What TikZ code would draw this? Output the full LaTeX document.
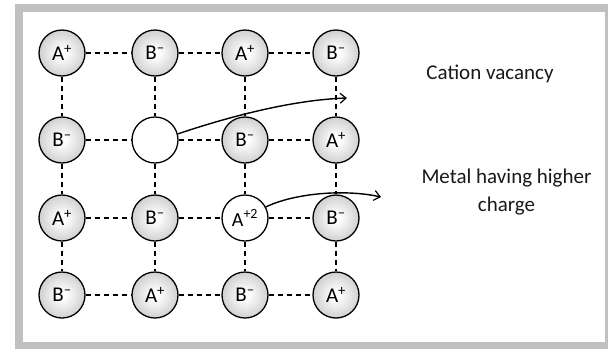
\documentclass[tikz,border=0pt]{standalone}
\usepackage{fontspec}
\setmainfont{Carlito}
\usetikzlibrary{arrows.meta}
\definecolor{framegray}{RGB}{192,192,192}
\pgfdeclareradialshading{ballshade}{\pgfpoint{0bp}{0bp}}{%
  color(0bp)=(white); color(4bp)=(white); color(50bp)=(black!40)}
\tikzset{
  ion/.style={circle, draw=black, line width=1.3pt, minimum size=46pt, inner sep=0pt,
    shading=ballshade,
    font=\fontsize{21}{24}\selectfont},
  hole/.style={circle, draw=black, line width=1.3pt, minimum size=46pt, inner sep=0pt, fill=white,
    font=\fontsize{20}{24}\selectfont},
  bond/.style={draw=black, line width=1.8pt, dash pattern=on 5pt off 4pt},
  pointer/.style={draw=black, line width=1.4pt, -{Straight Barb[length=6pt,width=10pt,line width=1.2pt]}},
  lbl/.style={font=\fontsize{21}{29}\selectfont, text=black!90, anchor=base, inner sep=0pt}
}
\newcommand{\ap}{A\textsuperscript{+}}
\newcommand{\bm}{B\textsuperscript{–}}
\begin{document}
\begin{tikzpicture}[x=1pt,y=-1pt]
\useasboundingbox (0,0) rectangle (608,349);
% frame
\fill[framegray] (15,4) rectangle (608,349);
\fill[white] (22.5,11.5) rectangle (605,341.7);
% ions
\node[ion] (a11) at (62,53) {\ap};
\node[ion] (a12) at (155,53) {\bm};
\node[ion] (a13) at (245,53) {\ap};
\node[ion] (a14) at (336,53) {\bm};
\node[ion] (a21) at (62,140) {\bm};
\node[hole] (a22) at (155,140) {};
\node[ion] (a23) at (245,140) {\bm};
\node[ion] (a24) at (336,140) {\ap};
\node[ion] (a31) at (62,218) {\ap};
\node[ion] (a32) at (155,218) {\bm};
\node[hole] (a33) at (245,218) {A\textsuperscript{+2}};
\node[ion] (a34) at (336,218) {\bm};
\node[ion] (a41) at (62,295) {\bm};
\node[ion] (a42) at (155,295) {\ap};
\node[ion] (a43) at (245,295) {\bm};
\node[ion] (a44) at (336,295) {\ap};
% bonds
\foreach \r in {1,2,3,4}{
  \path[bond] (a\r1) -- (a\r2);
  \path[bond] (a\r2) -- (a\r3);
  \path[bond] (a\r3) -- (a\r4);
}
\foreach \c in {1,2,3,4}{
  \path[bond] (a1\c) -- (a2\c);
  \path[bond] (a2\c) -- (a3\c);
  \path[bond] (a3\c) -- (a4\c);
}
% arrows
\coordinate (t1) at (347,98);
\coordinate (t2) at (381,197);
\path[pointer] (a22.15) .. controls (225,118) and (290,100) .. (t1);
\path[pointer] (a33.28) .. controls (295,193) and (345,189) .. (t2);
% labels
\node[lbl] (cv) at (490,79.3) {Cation vacancy};
\node[lbl] (mh) at (506.5,183) {Metal having higher};
\node[lbl] (ch) at (506.5,211.7) {charge};
\end{tikzpicture}
\end{document}
